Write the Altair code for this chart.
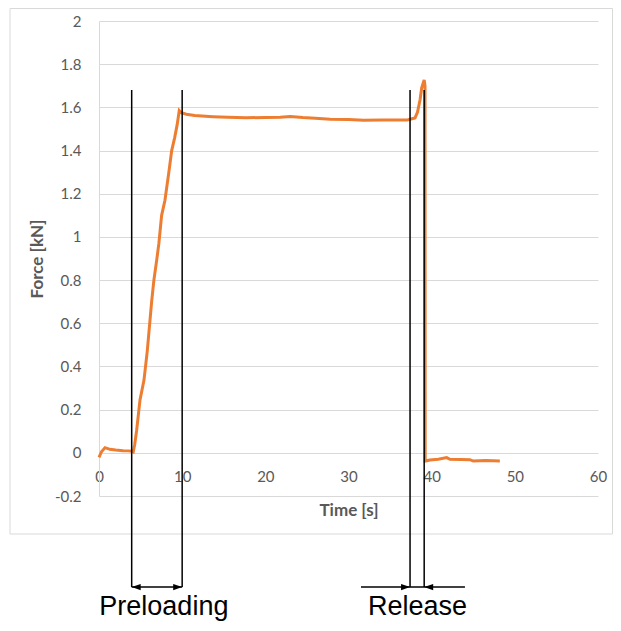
import altair as alt
import pandas as pd

# ---- force curve ----
time_s = [0, 0.3, 0.72, 1.32, 2.0, 2.9, 3.5, 4.05, 4.12, 4.3, 4.53, 4.93, 5.41, 5.8, 6.33, 6.6,
          6.93, 7.2, 7.53, 7.93, 8.4, 8.74, 9.1, 9.4, 9.65, 9.9, 10.5, 11.5, 13.7, 15.5, 17.7,
          20.0, 21.8, 23.0, 24.5, 26.0, 27.8, 30.0, 31.8, 34.0, 36.0, 37.0, 37.4, 38.0, 38.3,
          38.6, 38.8, 39.1, 39.2, 39.22, 39.8, 40.8, 41.8, 42.2, 43.5, 44.6, 45.0, 46.5, 48.2]
force_kn = [-0.021, 0.005, 0.024, 0.016, 0.013, 0.010, 0.009, 0.007, 0.005, 0.04, 0.105, 0.245,
            0.337, 0.47, 0.70, 0.80, 0.89, 0.97, 1.10, 1.17, 1.30, 1.40, 1.46, 1.52, 1.585, 1.575,
            1.568, 1.562, 1.557, 1.554, 1.552, 1.553, 1.554, 1.558, 1.553, 1.550, 1.545, 1.544,
            1.540, 1.542, 1.541, 1.541, 1.545, 1.551, 1.578, 1.634, 1.69, 1.727, 1.70, -0.038,
            -0.033, -0.030, -0.022, -0.030, -0.031, -0.032, -0.038, -0.036, -0.038]

# ---- annotation values ----
marker_times = [3.93, 10.0, 37.4, 39.1]
marker_top = 1.68
marker_bottom = -0.6216

arrow_starts = [3.93, 31.5]
arrow_ends = [10.0, 44.0]
head_times = [3.93, 10.0, 37.4, 39.1]
head_dirs = ["left", "right", "right", "left"]

label_texts = ["Preloading", "Release"]
label_times = [7.8, 38.3]
label_y = -0.751

x_ticks = [0, 10, 20, 30, 40, 50, 60]
y_ticks = [-0.2, 0, 0.2, 0.4, 0.6, 0.8, 1.0, 1.2, 1.4, 1.6, 1.8, 2.0]

ORANGE = "#ED7D31"
GRID = "#d9d9d9"
TXT = "#595959"

xs = alt.Scale(domain=[0, 60], nice=False)
ys = alt.Scale(domain=[-0.2, 2], nice=False)

curve = pd.DataFrame({"t": time_s, "f": force_kn})
markers = pd.DataFrame({"t": marker_times, "y1": [marker_top] * 4, "y2": [marker_bottom] * 4})
arrows = pd.DataFrame({"t": arrow_starts, "t2": arrow_ends, "y": [marker_bottom] * 2})
paths = {"left": "M0,0L1,-0.35L1,0.35Z", "right": "M0,0L-1,-0.35L-1,0.35Z"}
heads = pd.DataFrame({"t": head_times, "y": [marker_bottom] * 4,
                      "shape": [paths[d] for d in head_dirs]})
labels = pd.DataFrame({"t": label_times, "y": [label_y] * 2, "text": label_texts})

frame = alt.Chart(pd.DataFrame({"a": [0]})).mark_rect(
    fillOpacity=0, stroke=GRID, strokeWidth=1
).encode(x=alt.value(-89), x2=alt.value(513.5), y=alt.value(-12.5), y2=alt.value(513))

line = alt.Chart(curve).mark_line(color=ORANGE, strokeWidth=3).encode(
    x=alt.X("t:Q", scale=xs, axis=alt.Axis(
        values=x_ticks, title="Time [s]", grid=False, domain=False, ticks=False, tickSize=0,
        offset=-43, labelPadding=16, labelFont="Lato", labelFontSize=15, labelColor=TXT,
        titleFont="Lato", titleFontSize=17, titleFontWeight="bold", titleColor=TXT,
        titleY=57, titleBaseline="middle", labelFlush=False)),
    y=alt.Y("f:Q", scale=ys, axis=alt.Axis(
        values=y_ticks, title="Force [kN]", grid=True, gridColor=GRID, gridWidth=1,
        domain=True, domainColor=GRID, ticks=False, tickSize=0, labelPadding=18,
        labelFont="Lato", labelFontSize=15, labelColor=TXT,
        labelExpr="replace(format(datum.value, '.1~f'), '\u2212', '-')",
        titleFont="Lato", titleFontSize=17, titleFontWeight="bold", titleColor=TXT,
        titleX=-62, titleY=237.5, titleAngle=270, titleBaseline="middle",
        titleAlign="center", labelFlush=False)),
)

vlines = alt.Chart(markers).mark_rule(color="black", strokeWidth=1.5).encode(
    x=alt.X("t:Q", scale=xs), y=alt.Y("y1:Q", scale=ys), y2="y2:Q")

shafts = alt.Chart(arrows).mark_rule(color="black", strokeWidth=1.5).encode(
    x=alt.X("t:Q", scale=xs), x2="t2:Q", y=alt.Y("y:Q", scale=ys))

tips = alt.Chart(heads).mark_point(filled=True, color="black", opacity=1, size=324,
                                   strokeWidth=0).encode(
    x=alt.X("t:Q", scale=xs), y=alt.Y("y:Q", scale=ys),
    shape=alt.Shape("shape:N", scale=None))

texts = alt.Chart(labels).mark_text(font="Liberation Sans", fontSize=27, color="black",
                                    align="center", baseline="alphabetic").encode(
    x=alt.X("t:Q", scale=xs), y=alt.Y("y:Q", scale=ys), text="text:N")

chart = alt.layer(frame, line, vlines, shafts, tips, texts).properties(
    width=499, height=475,
    padding={"left": 91, "top": 13, "right": 15, "bottom": 125},
    autosize=alt.AutoSizeParams(type="none"),
).configure_view(strokeWidth=0)

chart.save("out.html", embed_options={"renderer": "svg", "actions": False})
